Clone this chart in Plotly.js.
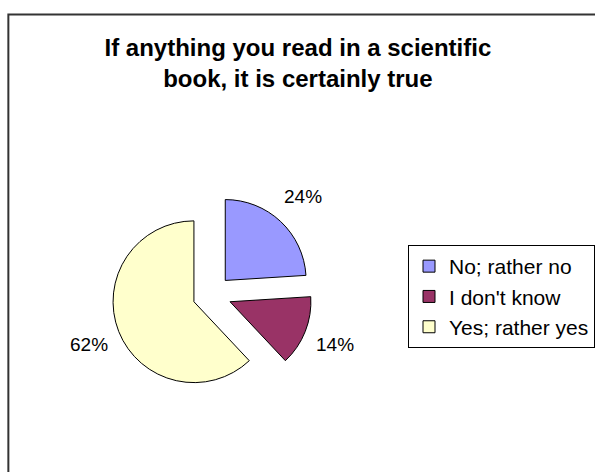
<!DOCTYPE html>
<html>
<head>
<meta charset="utf-8">
<script src="https://cdn.plot.ly/plotly-3.0.1.min.js"></script>
<style>
  html, body { margin: 0; padding: 0; background: #ffffff; }
  #chart { width: 595px; height: 472px; }
</style>
</head>
<body>
<div id="chart"></div>
<script>
// Survey answers, in percent
const answerLabels = ["No; rather no", "I don't know", "Yes; rather yes"];
const answerShares = [24, 14, 62];
const sliceColors = ["#9999FF", "#993366", "#FFFFCC"];

const W = 595, H = 472;
const px = v => v / W;          // horizontal pixel -> paper fraction
const py = v => 1 - v / H;      // vertical pixel (from top) -> paper fraction

const FONT = "Liberation Sans, Arial, sans-serif";

// pie box (pixels): square, centred on the pie's centre
const pieBox = { left: 113.6, right: 317.6, top: 192.6, bottom: 396.6 };
const pieCx = (pieBox.left + pieBox.right) / 2;
const pieCy = (pieBox.top + pieBox.bottom) / 2;
const labelRadius = 135;        // distance of the percentage labels from the centre

const pie = {
  type: "pie",
  labels: answerLabels,
  values: answerShares,
  sort: false,
  direction: "clockwise",
  rotation: 0,
  pull: answerShares.map(() => 0.24),
  marker: { colors: sliceColors, line: { color: "#000000", width: 1 } },
  textinfo: "none",
  hoverinfo: "label+percent",
  domain: { x: [px(pieBox.left), px(pieBox.right)], y: [py(pieBox.bottom), py(pieBox.top)] }
};

// percentage labels sit outside each slice, on its bisector
const total = answerShares.reduce((a, b) => a + b, 0);
let running = 0;
const percentLabels = answerShares.map(v => {
  const mid = (running + v / 2) / total * 2 * Math.PI;
  running += v;
  const x = pieCx + labelRadius * Math.sin(mid);
  const y = pieCy - labelRadius * Math.cos(mid);
  return {
    xref: "paper", yref: "paper",
    x: px(x), y: py(y),
    xanchor: "center", yanchor: "middle",
    showarrow: false,
    text: Math.round(v / total * 100) + "%",
    font: { family: FONT, size: 19, color: "#000000" }
  };
});

const layout = {
  width: W,
  height: H,
  margin: { l: 0, r: 0, t: 0, b: 0 },
  paper_bgcolor: "#ffffff",
  plot_bgcolor: "#ffffff",
  font: { family: FONT, color: "#000000" },
  title: {
    text: "<b>If anything you read in a scientific<br>book, it is certainly true</b>",
    font: { family: FONT, size: 24, color: "#000000" },
    xref: "paper", yref: "paper",
    x: px(303), xanchor: "center",
    y: py(56), yanchor: "top"
  },
  showlegend: true,
  legend: {
    x: px(415), xanchor: "left",
    y: py(245), yanchor: "top",
    bordercolor: "#000000",
    borderwidth: 1,
    bgcolor: "#ffffff",
    font: { family: FONT, size: 21, color: "#000000" },
    traceorder: "normal"
  },
  annotations: percentLabels,
  shapes: [
    {
      type: "rect", xref: "paper", yref: "paper", layer: "below",
      x0: px(8.5), x1: px(620), y0: py(500), y1: py(14.5),
      line: { color: "#333333", width: 2 }, fillcolor: "rgba(0,0,0,0)"
    }
  ]
};

Plotly.newPlot("chart", [pie], layout, { displayModeBar: false, staticPlot: true });
</script>
</body>
</html>
